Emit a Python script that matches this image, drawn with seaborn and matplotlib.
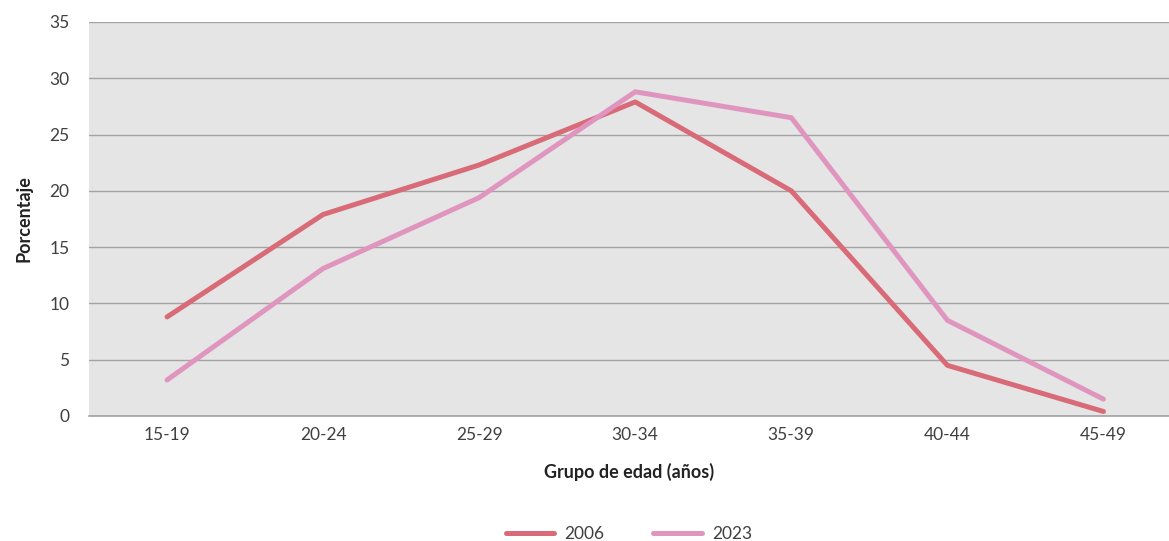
import matplotlib.pyplot as plt
import pandas as pd
import seaborn as sns

# Datos
grupos = ["15-19", "20-24", "25-29", "30-34", "35-39", "40-44", "45-49"]
valores_2006 = [8.8, 17.9, 22.3, 27.9, 20.0, 4.5, 0.4]
valores_2023 = [3.2, 13.1, 19.4, 28.8, 26.5, 8.5, 1.5]
anios = ["2006", "2023"]
colores = ["#d86b77", "#e095bf"]

df = pd.DataFrame({
    "grupo": grupos * 2,
    "pos": list(range(len(grupos))) * 2,
    "valor": valores_2006 + valores_2023,
    "anio": [anios[0]] * len(grupos) + [anios[1]] * len(grupos),
})

sns.set_theme(style="white")
plt.rcParams["font.family"] = ["Lato", "DejaVu Sans"]

fig = plt.figure(figsize=(11.69, 5.41), dpi=100)
ax = fig.add_axes([89 / 1169, 1 - 416 / 541, (1169 - 89) / 1169, (416 - 22) / 541])
ax.set_facecolor("#e5e5e5")

sns.lineplot(data=df, x="pos", y="valor", hue="anio", palette=colores,
             linewidth=3.6, ax=ax, legend=True, solid_capstyle="round")

ax.set_ylim(0, 35)
ax.set_xlim(-0.5, 6.42)
ax.set_yticks(range(0, 36, 5))
ax.set_xticks(range(len(grupos)))
ax.set_xticklabels(grupos)
ax.yaxis.grid(True, color="#a3a3a3", linewidth=1)
ax.set_axisbelow(True)
for s in ["top", "right", "left"]:
    ax.spines[s].set_visible(False)
ax.spines["bottom"].set_color("#a3a3a3")
ax.spines["bottom"].set_linewidth(1.2)
ax.tick_params(axis="both", length=0, labelsize=12.5, colors="#404040")
ax.tick_params(axis="y", pad=14)
ax.tick_params(axis="x", pad=8)

ax.set_xlabel("Grupo de edad (años)", fontsize=13, fontweight="bold", color="#222222", labelpad=14)
ax.set_ylabel("Porcentaje", fontsize=13, fontweight="bold", color="#222222", labelpad=12)

ax.legend(loc="center", bbox_to_anchor=(0.5, -0.3),
          ncol=2, frameon=False, fontsize=12.5, handlelength=2.8, handletextpad=0.6,
          columnspacing=2.8, labelcolor="#404040")

fig.savefig("out.png", dpi=100)
